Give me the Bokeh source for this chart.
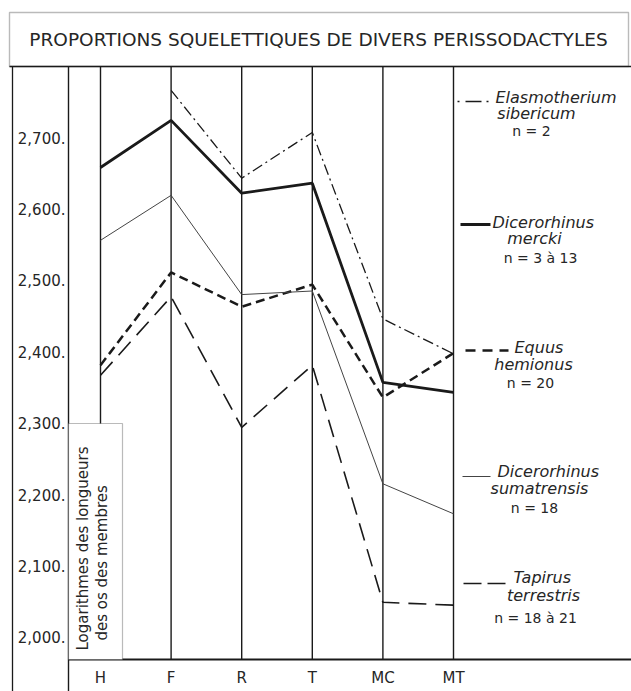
import math
from bokeh.plotting import figure
from bokeh.models import Range1d, FixedTicker, BoxAnnotation, Label, LinearAxis
from bokeh.embed import file_html
from bokeh.resources import INLINE

# ---------------- data ----------------
categories = ["H", "F", "R", "T", "MC", "MT"]
y_ticks = [2.0, 2.1, 2.2, 2.3, 2.4, 2.5, 2.6, 2.7]
y_tick_labels = ["2,000.", "2,100.", "2,200.", "2,300.", "2,400.", "2,500.", "2,600.", "2,700."]

elasmotherium = [float("nan"), 2.766, 2.643, 2.707, 2.446, 2.397]
mercki = [2.658, 2.724, 2.622, 2.636, 2.357, 2.343]
equus = [2.381, 2.511, 2.463, 2.494, 2.336, 2.398]
sumatrensis = [2.556, 2.619, 2.480, 2.485, 2.215, 2.173]
tapirus = [2.367, 2.477, 2.294, 2.381, 2.049, 2.045]

title_text = "PROPORTIONS SQUELETTIQUES DE DIVERS PERISSODACTYLES"
ylabel_lines = ["Logarithmes des longueurs", "des os des membres"]

# ---------------- layout helpers (canvas pixels -> data) ----------------
W, H = 631, 691
X0_PX, DX_PX = 100.0, 70.6
Y0_PX, Y0_VAL, PX_PER_UNIT = 137.0, 2.7, 714.0


def dx(px):
    return (px - X0_PX) / DX_PX


def dy(py):
    return Y0_VAL - (py - Y0_PX) / PX_PER_UNIT


INK = "#1a1a1a"
TXT = "#262626"
FONT = "DejaVu Sans"

p = figure(width=W, height=H, output_backend="svg", toolbar_location=None, title=None,
           x_range=Range1d(dx(0), dx(W)), y_range=Range1d(dy(H), dy(0)),
           x_axis_type=None, y_axis_type=None,
           min_border=0, background_fill_color="white", border_fill_color="white")
p.outline_line_color = None
p.grid.visible = False

xs = list(range(len(categories)))

# category verticals
p.segment(x0=xs, y0=[dy(66)] * len(xs), x1=xs, y1=[dy(659)] * len(xs),
          line_color=INK, line_width=1.4)

# outer frame line
p.segment(x0=[dx(12)], y0=[dy(66)], x1=[dx(12)], y1=[dy(H)], line_color=INK, line_width=1.3)

# axes (fixed inside the canvas)
xaxis = LinearAxis(fixed_location=dy(659), bounds=(dx(68), dx(W)),
                   ticker=FixedTicker(ticks=xs),
                   major_label_overrides={i: c for i, c in zip(xs, categories)})
xaxis.major_tick_line_color = None
xaxis.minor_tick_line_color = None
xaxis.major_tick_out = 0
xaxis.major_tick_in = 0
xaxis.axis_line_color = INK
xaxis.axis_line_width = 1.8
xaxis.major_label_text_font = FONT
xaxis.major_label_text_font_size = "15px"
xaxis.major_label_text_color = TXT
xaxis.major_label_standoff = 9
p.add_layout(xaxis, "below")

yaxis = LinearAxis(fixed_location=dx(68), bounds=(dy(H), dy(66)),
                   ticker=FixedTicker(ticks=y_ticks),
                   major_label_overrides={t: l for t, l in zip(y_ticks, y_tick_labels)})
yaxis.major_tick_line_color = None
yaxis.minor_tick_line_color = None
yaxis.major_tick_out = 0
yaxis.major_tick_in = 0
yaxis.axis_line_color = INK
yaxis.axis_line_width = 1.4
yaxis.major_label_text_font = FONT
yaxis.major_label_text_font_size = "15px"
yaxis.major_label_text_color = TXT
yaxis.major_label_standoff = 3
p.add_layout(yaxis, "left")

# y label box
p.add_layout(BoxAnnotation(left=dx(68), right=dx(122), top=dy(423), bottom=dy(659),
                           fill_color="white", fill_alpha=1.0,
                           line_color=INK, line_width=1.2, level="annotation"))
p.add_layout(Label(x=dx(82), y=dy(650), text=ylabel_lines[0], angle=math.pi / 2,
                   text_align="left", text_baseline="middle", text_font=FONT,
                   text_font_size="15px", text_color=TXT))
p.add_layout(Label(x=dx(101), y=dy(640), text=ylabel_lines[1], angle=math.pi / 2,
                   text_align="left", text_baseline="middle", text_font=FONT,
                   text_font_size="15px", text_color=TXT))

# series
p.line(xs, elasmotherium, line_color=INK, line_width=1.3, line_dash="11 4 2 4")
p.line(xs, mercki, line_color=INK, line_width=2.8)
p.line(xs, equus, line_color=INK, line_width=2.5, line_dash="9 5")
p.line(xs, sumatrensis, line_color="#444444", line_width=1.0)
p.line(xs, tapirus, line_color=INK, line_width=1.6, line_dash="18 9")

# legend (samples + labels)
legend_specs = [
    (457, 490, 101, "2 6 16 5 2 20", 1.3, INK, "Elasmotherium", 495, 97, "sibericum", 536, 113, "n = 2", 531, 130),
    (460, 490, 224, "solid", 2.8, INK, "Dicerorhinus", 492, 222, "mercki", 534, 238, "n = 3 à 13", 540, 257),
    (465, 508, 350, "10 7", 2.5, INK, "Equus", 514, 347, "hemionus", 533, 364, "n = 20", 530, 382),
    (462, 490, 476, "solid", 1.0, "#444444", "Dicerorhinus", 497, 471, "sumatrensis", 539, 488, "n = 18", 534, 507),
    (463, 505, 583, "18 6", 1.6, INK, "Tapirus", 513, 577, "terrestris", 543, 595, "n = 18 à 21", 535, 617),
]
for (x0, x1, ys_, dash, w, col, name, nx_, ny_, l2, l2x, l2y, ntxt, nnx, nny) in legend_specs:
    p.line([dx(x0), dx(x1)], [dy(ys_), dy(ys_)], line_color=col, line_width=w, line_dash=dash)
    p.add_layout(Label(x=dx(nx_), y=dy(ny_), text=name, text_align="left", text_baseline="middle",
                       text_font=FONT, text_font_style="italic", text_font_size="16px", text_color=TXT))
    p.add_layout(Label(x=dx(l2x), y=dy(l2y), text=l2, text_align="center", text_baseline="middle",
                       text_font=FONT, text_font_style="italic", text_font_size="16px", text_color=TXT))
    p.add_layout(Label(x=dx(nnx), y=dy(nny), text=ntxt, text_align="center", text_baseline="middle",
                       text_font=FONT, text_font_size="14px", text_color=TXT))

# title box
p.add_layout(BoxAnnotation(left=dx(9), right=dx(628), top=dy(12), bottom=dy(66),
                           fill_alpha=0, line_color=INK, line_width=1.4, level="overlay"))
p.segment(x0=[dx(9)], y0=[dy(66)], x1=[dx(W)], y1=[dy(66)], line_color=INK, line_width=1.6)
p.add_layout(Label(x=dx(318), y=dy(39), text=title_text, text_align="center", text_baseline="middle",
                   text_font=FONT, text_font_size="18.5px", text_color=TXT))

open("out.html", "w").write(file_html(p, INLINE))
